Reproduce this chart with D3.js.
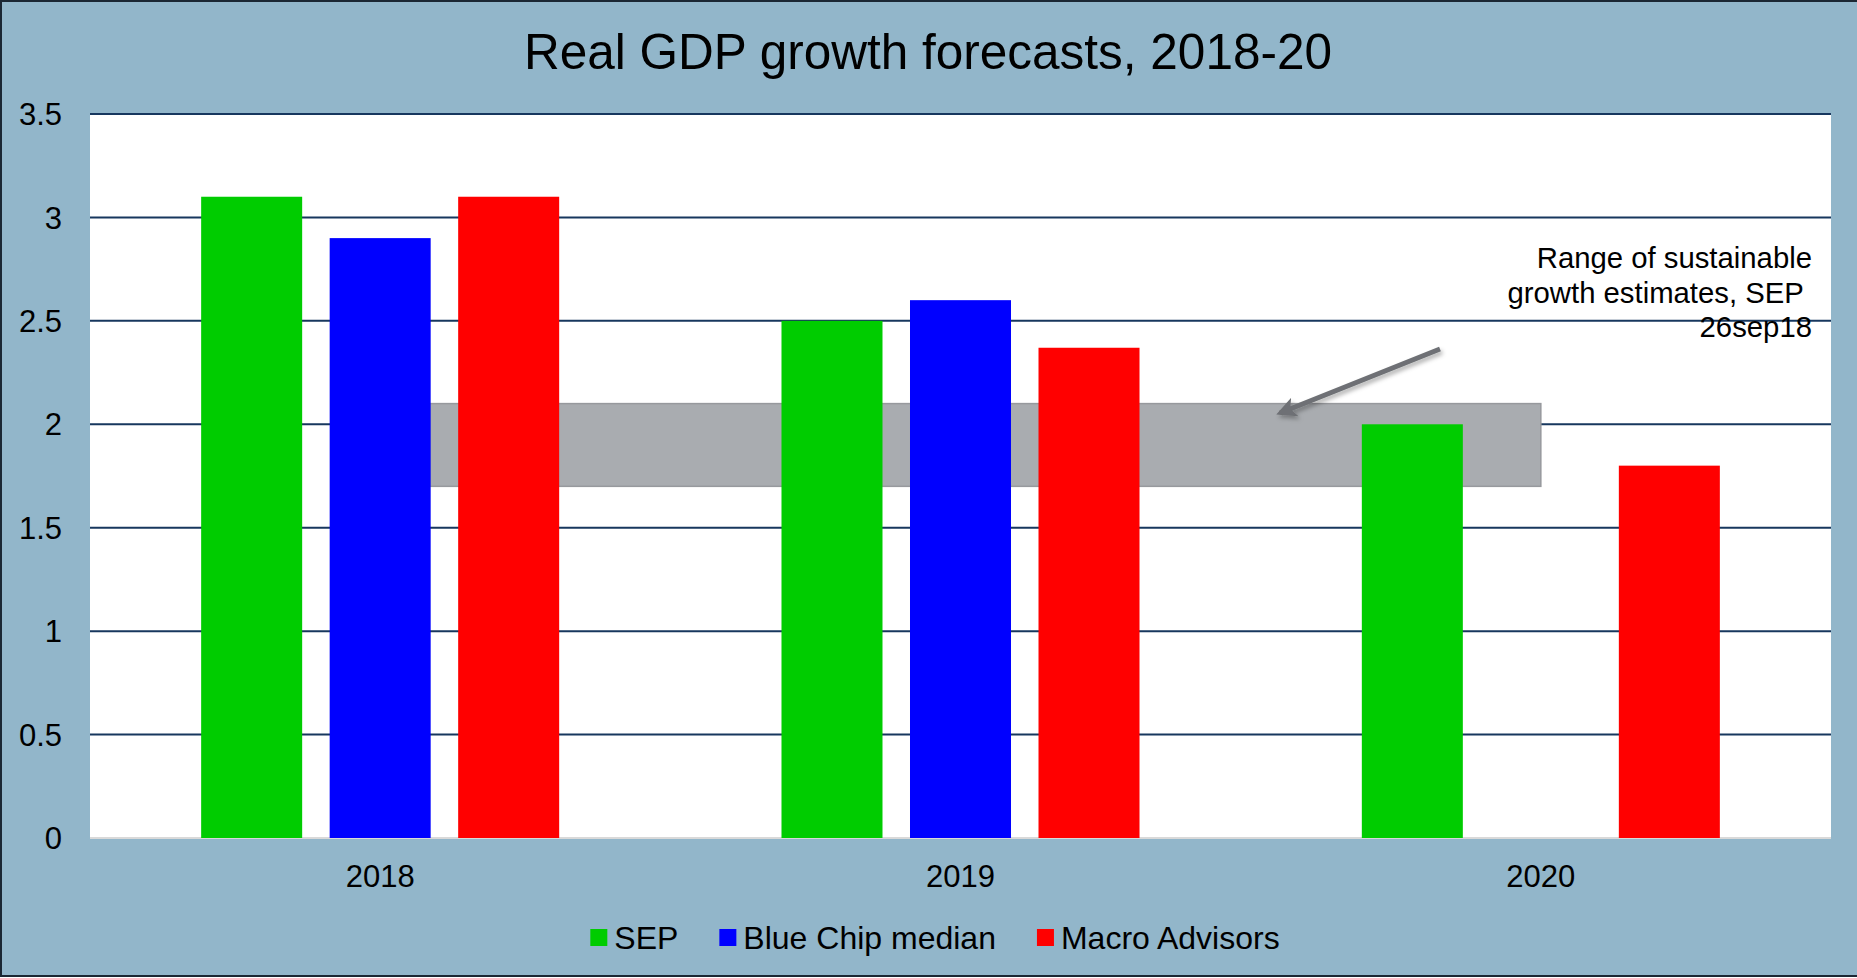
<!DOCTYPE html>
<html>
<head>
<meta charset="utf-8">
<script src="https://cdn.jsdelivr.net/npm/d3@7"></script>
<style>
  html, body { margin: 0; padding: 0; background: #fff; }
  svg { display: block; }
  text { font-family: 'Liberation Sans', Arial, sans-serif; fill: #000; }
</style>
</head>
<body>
<svg id="chart" width="1857" height="978"></svg>
<script>
const years = ['2018', '2019', '2020']
const seriesNames = ['SEP', 'Blue Chip median', 'Macro Advisors']
const seriesColors = ['#00CC00', '#0000FF', '#FF0000']
const sep = [3.1, 2.5, 2.0]
const blueChip = [2.9, 2.6, null]
const macroAdvisors = [3.1, 2.37, 1.8]
const sustainableRange = [1.7, 2.1]
const yTicks = [0, 0.5, 1, 1.5, 2, 2.5, 3, 3.5]
const annotationLines = ['Range of sustainable', 'growth estimates, SEP\u00a0', '26sep18']

const width = 1857
const height = 978
const plot = { left: 90, right: 1831, top: 114, bottom: 838 }

const svg = d3.select('#chart')

// background + frame
svg.append('rect')
  .attr('x', 1).attr('y', 1)
  .attr('width', width + 4).attr('height', height - 3)
  .attr('fill', '#92B6CA')
  .attr('stroke', '#1b2733')
  .attr('stroke-width', 2)

svg.append('rect')
  .attr('x', plot.left).attr('y', plot.top)
  .attr('width', plot.right - plot.left).attr('height', plot.bottom - plot.top)
  .attr('fill', '#fff')

const y = d3.scaleLinear().domain([0, 3.5]).range([plot.bottom, plot.top])
const x0 = d3.scaleBand().domain(years).range([plot.left, plot.right]).padding(0)
const x1 = d3.scaleBand().domain(seriesNames).range([0, x0.bandwidth()])
  .paddingInner(0.214).paddingOuter(0.865)

// gridlines
svg.append('g')
  .selectAll('line')
  .data(yTicks)
  .enter()
  .append('line')
  .attr('x1', plot.left).attr('x2', plot.right)
  .attr('y1', (d) => y(d)).attr('y2', (d) => y(d))
  .attr('stroke', (d) => d === 0 ? '#d9d9d9' : '#17375E')
  .attr('stroke-width', 2)

// y axis labels
svg.append('g')
  .selectAll('text')
  .data(yTicks)
  .enter()
  .append('text')
  .attr('x', 62)
  .attr('y', (d) => y(d))
  .attr('dy', '0.36em')
  .attr('text-anchor', 'end')
  .style('font-size', '31px')
  .text((d) => d3.format('')(d))

// sustainable growth band (behind bars)
const bandX = (yr) => x0(yr) + x1('Blue Chip median') + x1.bandwidth() / 2
svg.append('rect')
  .attr('x', bandX('2018'))
  .attr('y', y(sustainableRange[1]))
  .attr('width', bandX('2020') - bandX('2018'))
  .attr('height', y(sustainableRange[0]) - y(sustainableRange[1]))
  .attr('fill', '#A9ACB0')
  .attr('stroke', '#97999D')
  .attr('stroke-width', 1.5)

// bars
const series = [sep, blueChip, macroAdvisors]
const rows = []
series.forEach((vals, si) => {
  vals.forEach((v, yi) => {
    if (v != null) rows.push({ year: years[yi], name: seriesNames[si], color: seriesColors[si], value: v })
  })
})

svg.append('g')
  .selectAll('rect')
  .data(rows)
  .enter()
  .append('rect')
  .attr('x', (d) => x0(d.year) + x1(d.name))
  .attr('y', (d) => y(d.value))
  .attr('width', x1.bandwidth())
  .attr('height', (d) => y(0) - y(d.value))
  .attr('fill', (d) => d.color)

// x axis labels
svg.append('g')
  .selectAll('text')
  .data(years)
  .enter()
  .append('text')
  .attr('x', (d) => x0(d) + x0.bandwidth() / 2)
  .attr('y', 887)
  .attr('text-anchor', 'middle')
  .style('font-size', '31px')
  .text((d) => d)

// title
svg.append('text')
  .attr('x', 928)
  .attr('y', 69)
  .attr('text-anchor', 'middle')
  .style('font-size', '49.5px')
  .text('Real GDP growth forecasts, 2018-20')

// annotation arrow
const defs = svg.append('defs')
defs.append('marker')
  .attr('id', 'head')
  .attr('viewBox', '0 0 10 10')
  .attr('refX', 8).attr('refY', 5)
  .attr('markerWidth', 4).attr('markerHeight', 4)
  .attr('orient', 'auto')
  .append('path')
  .attr('d', 'M0,0 L10,5 L0,10 L2.5,5 Z')
  .attr('fill', '#6E7074')
const shadow = defs.append('filter').attr('id', 'shadow')
  .attr('x', '-20%').attr('y', '-20%').attr('width', '140%').attr('height', '140%')
shadow.append('feDropShadow')
  .attr('dx', 2).attr('dy', 3).attr('stdDeviation', 2)
  .attr('flood-color', '#000').attr('flood-opacity', 0.3)

svg.append('line')
  .attr('x1', 1440).attr('y1', 349)
  .attr('x2', 1280).attr('y2', 413)
  .attr('stroke', '#6E7074')
  .attr('stroke-width', 5)
  .attr('marker-end', 'url(#head)')
  .attr('filter', 'url(#shadow)')

svg.append('g')
  .selectAll('text')
  .data(annotationLines)
  .enter()
  .append('text')
  .attr('x', 1812)
  .attr('y', (d, i) => 268 + i * 34.5)
  .attr('text-anchor', 'end')
  .style('font-size', '29.3px')
  .text((d) => d)

// legend
const legend = svg.append('g')
const items = legend.selectAll('g')
  .data(seriesNames)
  .enter()
  .append('g')
items.append('rect')
  .attr('width', 17).attr('height', 17)
  .attr('y', 929)
  .attr('fill', (d, i) => seriesColors[i])
items.append('text')
  .attr('x', 24)
  .attr('y', 949)
  .style('font-size', '32px')
  .text((d) => d)

let lx = 0
const offsets = []
items.each(function () {
  offsets.push(lx)
  lx += this.getBBox().width + 41
})
lx -= 41
const legendStart = 935 - lx / 2
items.attr('transform', (d, i) => `translate(${legendStart + offsets[i]},0)`)
</script>
</body>
</html>
